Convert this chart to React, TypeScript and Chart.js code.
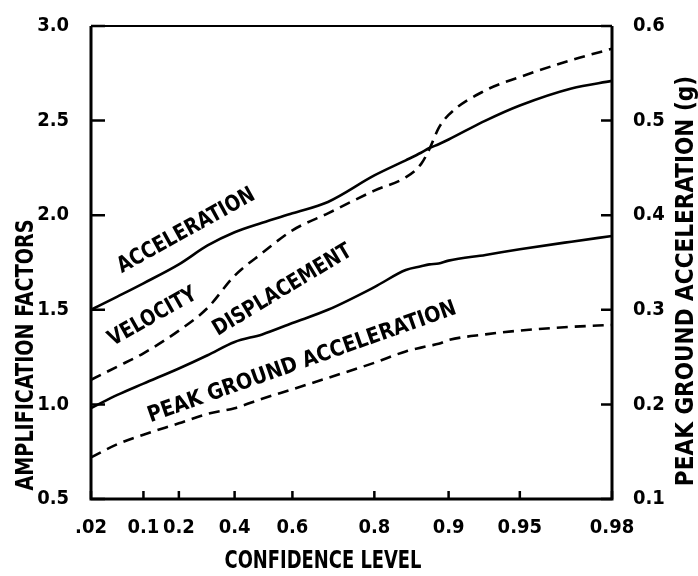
import React, { useEffect, useRef } from "react";
import { Chart, registerables } from "chart.js";

Chart.register(...registerables);

const FONT = '"DejaVu Sans Condensed", "Liberation Sans Narrow", "DejaVu Sans", sans-serif';

// Confidence levels (plotted on an extreme-value probability scale)
const confidenceLevels = [0.02, 0.05, 0.1, 0.2, 0.3, 0.4, 0.5, 0.6, 0.7, 0.8, 0.85, 0.87, 0.88, 0.89, 0.9, 0.93, 0.95, 0.97, 0.98];

// Amplification factors (left axis)
const acceleration = [1.5, 1.57, 1.64, 1.74, 1.84, 1.91, 1.96, 2.01, 2.07, 2.21, 2.29, 2.33, 2.355, 2.375, 2.4, 2.5, 2.58, 2.67, 2.71];
const velocity = [1.13, 1.2, 1.27, 1.39, 1.51, 1.68, 1.8, 1.92, 2.01, 2.13, 2.2, 2.27, 2.35, 2.46, 2.53, 2.66, 2.73, 2.82, 2.88];
const displacement = [0.98, 1.05, 1.11, 1.19, 1.26, 1.33, 1.37, 1.43, 1.5, 1.62, 1.71, 1.73, 1.74, 1.745, 1.76, 1.79, 1.82, 1.86, 1.89];

// Peak ground acceleration in g (right axis)
const peakGroundAcceleration = [0.144, 0.158, 0.168, 0.18, 0.19, 0.196, 0.206, 0.216, 0.228, 0.244, 0.256, 0.26, 0.262, 0.264, 0.268, 0.274, 0.278, 0.282, 0.284];

// Axis ticks
const xTickLevels = [0.02, 0.1, 0.2, 0.4, 0.6, 0.8, 0.9, 0.95, 0.98];
const xTickLabels = [".02", "0.1", "0.2", "0.4", "0.6", "0.8", "0.9", "0.95", "0.98"];
const amplificationTicks = [0.5, 1.0, 1.5, 2.0, 2.5, 3.0];
const pgaTicks = [0.1, 0.2, 0.3, 0.4, 0.5, 0.6];

// In-plot curve labels, anchored in data coordinates (confidence level, amplification)
const curveLabels = [
  { text: "ACCELERATION", level: 0.234, value: 1.89, angle: -29, maxWidth: 154 },
  { text: "VELOCITY", level: 0.13, value: 1.435, angle: -29.5, maxWidth: 98 },
  { text: "DISPLACEMENT", level: 0.578, value: 1.577, angle: -31, maxWidth: 158 },
  { text: "PEAK GROUND ACCELERATION", level: 0.635, value: 1.193, angle: -19.5, maxWidth: 326 },
];

const gumbel = (p: number) => -Math.log(-Math.log(p));

const decorations = {
  id: "decorations",
  afterDatasetsDraw(chart: any) {
    const { ctx, chartArea: a, scales } = chart;
    ctx.save();
    ctx.strokeStyle = "#000";
    ctx.lineCap = "butt";
    // frame
    ctx.lineWidth = 3;
    ctx.beginPath();
    ctx.moveTo(a.left, a.top);
    ctx.lineTo(a.left, a.bottom);
    ctx.lineTo(a.right, a.bottom);
    ctx.lineTo(a.right, a.top);
    ctx.stroke();
    ctx.lineWidth = 2;
    ctx.beginPath();
    ctx.moveTo(a.left, a.top);
    ctx.lineTo(a.right, a.top);
    ctx.stroke();
    // inward tick marks
    ctx.lineWidth = 2.5;
    ctx.beginPath();
    scales.y.ticks.forEach((t: any) => {
      const y = scales.y.getPixelForValue(t.value);
      ctx.moveTo(a.left, y);
      ctx.lineTo(a.left + 14, y);
    });
    scales.y2.ticks.forEach((t: any) => {
      const y = scales.y2.getPixelForValue(t.value);
      ctx.moveTo(a.right, y);
      ctx.lineTo(a.right - 11, y);
    });
    scales.x.ticks.forEach((t: any) => {
      const x = scales.x.getPixelForValue(t.value);
      ctx.moveTo(x, a.bottom);
      ctx.lineTo(x, a.bottom - 8);
    });
    ctx.stroke();

    // curve labels
    ctx.fillStyle = "#000";
    ctx.font = `bold 22px ${FONT}`;
    ctx.textAlign = "center";
    ctx.textBaseline = "alphabetic";
    curveLabels.forEach((l) => {
      const x = scales.x.getPixelForValue(gumbel(l.level));
      const y = scales.y.getPixelForValue(l.value);
      ctx.save();
      ctx.translate(x, y);
      ctx.rotate((l.angle * Math.PI) / 180);
      ctx.fillText(l.text, 0, 0, l.maxWidth);
      ctx.restore();
    });

    // axis titles
    ctx.font = `bold 24px ${FONT}`;
    ctx.fillText("CONFIDENCE LEVEL", a.left + 232, a.bottom + 69, 197);

    ctx.save();
    ctx.translate(a.left - 58, a.top + 329);
    ctx.rotate(-Math.PI / 2);
    ctx.fillText("AMPLIFICATION FACTORS", 0, 0, 271);
    ctx.restore();

    ctx.save();
    ctx.translate(a.right + 81, a.top + 255);
    ctx.rotate(-Math.PI / 2);
    ctx.fillText("PEAK GROUND ACCELERATION (g)", 0, 0, 417);
    ctx.restore();

    ctx.restore();
  },
};

export default function App() {
  const canvasRef = useRef<HTMLCanvasElement | null>(null);

  useEffect(() => {
    if (!canvasRef.current) return;
    const tickFont = { family: FONT, size: 20, weight: "bold" as const };
    const mk = (values: number[]) => confidenceLevels.map((p, i) => ({ x: gumbel(p), y: values[i] }));
    const common = {
      borderColor: "#000",
      borderWidth: 2.6,
      pointRadius: 0,
      tension: 0.4,
      cubicInterpolationMode: "monotone" as const,
      fill: false,
    };
    const chart = new Chart(canvasRef.current, {
      type: "line",
      data: {
        datasets: [
          { label: "Acceleration", data: mk(acceleration), yAxisID: "y", ...common },
          { label: "Velocity", data: mk(velocity), yAxisID: "y", borderDash: [11, 7], ...common },
          { label: "Displacement", data: mk(displacement), yAxisID: "y", ...common },
          { label: "Peak ground acceleration", data: mk(peakGroundAcceleration), yAxisID: "y2", borderDash: [11, 7], ...common },
        ],
      },
      options: {
        animation: false,
        responsive: false,
        devicePixelRatio: 1,
        layout: { padding: { top: 23, left: 0, right: 0, bottom: 0 } },
        plugins: { legend: { display: false }, tooltip: { enabled: false } },
        scales: {
          x: {
            type: "linear",
            min: gumbel(0.02),
            max: gumbel(0.98),
            afterBuildTicks: (s: any) => {
              s.ticks = xTickLevels.map((p) => ({ value: gumbel(p) }));
            },
            afterFit: (s: any) => {
              s.height = 77;
            },
            ticks: {
              callback: (_v: any, i: number) => xTickLabels[i],
              autoSkip: false,
              maxRotation: 0,
              padding: 9,
              font: tickFont,
              color: "#000",
            },
            grid: { display: false },
            border: { display: false },
          },
          y: {
            type: "linear",
            position: "left",
            min: 0.5,
            max: 3.0,
            afterBuildTicks: (s: any) => {
              s.ticks = amplificationTicks.map((v) => ({ value: v }));
            },
            afterFit: (s: any) => {
              s.width = 91;
            },
            ticks: {
              callback: (v: any) => Number(v).toFixed(1),
              padding: 14,
              font: tickFont,
              color: "#000",
            },
            grid: { display: false },
            border: { display: false },
          },
          y2: {
            type: "linear",
            position: "right",
            min: 0.1,
            max: 0.6,
            afterBuildTicks: (s: any) => {
              s.ticks = pgaTicks.map((v) => ({ value: v }));
            },
            afterFit: (s: any) => {
              s.width = 86;
            },
            ticks: {
              callback: (v: any) => Number(v).toFixed(1),
              padding: 13,
              font: tickFont,
              color: "#000",
            },
            grid: { display: false },
            border: { display: false },
          },
        },
      },
      plugins: [decorations],
    });
    return () => chart.destroy();
  }, []);

  return (
    <div style={{ position: "absolute", left: 0, top: 0, width: 698, height: 576, background: "#fff" }}>
      <canvas ref={canvasRef} width={698} height={576} style={{ display: "block" }} />
    </div>
  );
}
